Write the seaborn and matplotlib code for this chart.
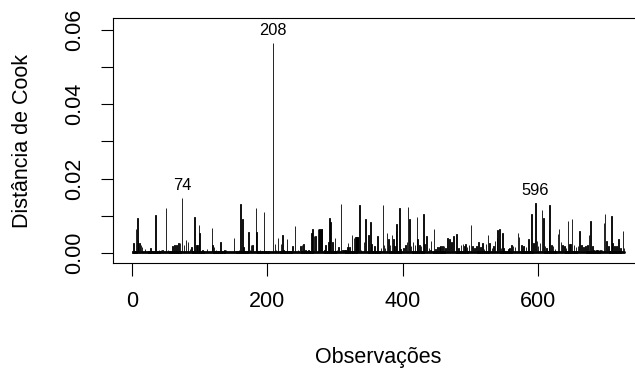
import numpy as np
import pandas as pd
import matplotlib
matplotlib.use("Agg")
import matplotlib.pyplot as plt
import seaborn as sns

# ---------------- data ----------------
n_obs = 728
floor_value = 0.0004          # thin dense baseline seen under all observations
spike_obs = [2, 6, 8, 9, 11, 13, 15, 19, 27, 35, 40, 43, 45, 50, 53, 60, 63, 66, 69, 71,
             74, 77, 80, 83, 86, 88, 92, 95, 97, 99, 100, 104, 111, 118, 119, 121, 124, 131,
             137, 139, 151, 158, 160, 163, 165, 172, 174, 176, 178, 183, 184, 189, 191, 195,
             208, 211, 213, 216, 220, 222, 224, 229, 232, 237, 241, 245, 249, 251, 253, 256,
             261, 265, 267, 269, 271, 275, 276, 277, 278, 279, 280, 281, 284, 286, 290, 292,
             293, 296, 300, 303, 305, 309, 311, 312, 313, 314, 315, 316, 318, 319, 321, 325,
             328, 330, 331, 332, 333, 334, 336, 338, 343, 345, 349, 352, 354, 358, 363, 368,
             371, 372, 374, 377, 379, 381, 384, 386, 388, 390, 391, 395, 397, 401, 404, 406,
             408, 410, 412, 415, 418, 421, 422, 425, 427, 431, 432, 435, 439, 441, 442, 446,
             448, 451, 454, 456, 459, 461, 463, 466, 469, 472, 475, 479, 482, 486, 489, 491,
             493, 495, 498, 501, 503, 506, 509, 512, 515, 518, 520, 523, 526, 528, 532, 534,
             536, 539, 540, 543, 545, 547, 549, 556, 558, 561, 563, 566, 570, 572, 575, 578,
             582, 586, 590, 593, 596, 598, 600, 603, 606, 608, 610, 612, 616, 617, 620, 622,
             625, 629, 631, 634, 636, 639, 641, 644, 646, 648, 650, 653, 656, 659, 661, 664,
             667, 670, 673, 675, 677, 680, 682, 684, 686, 688, 690, 692, 694, 697, 699, 701,
             704, 708, 710, 713, 716, 719, 722, 725, 727]
spike_val = [0.0025, 0.0063, 0.0094, 0.0033, 0.0025, 0.0020, 0.0015, 0.0010, 0.0012, 0.0101,
             0.0007, 0.0008, 0.0008, 0.0121, 0.0006, 0.0018, 0.0020, 0.0020, 0.0025, 0.0025,
             0.0148, 0.0020, 0.0033, 0.0030, 0.0010, 0.0015, 0.0097, 0.0022, 0.0020, 0.0076,
             0.0054, 0.0008, 0.0010, 0.0067, 0.0020, 0.0015, 0.0007, 0.0030,
             0.0006, 0.0006, 0.0040, 0.0008, 0.0132, 0.0090, 0.0016, 0.0056, 0.0007, 0.0020,
             0.0022, 0.0121, 0.0055, 0.0006, 0.0005, 0.0109,
             0.0565, 0.0023, 0.0008, 0.0040, 0.0023, 0.0047, 0.0008, 0.0038, 0.0005, 0.0018,
             0.0072, 0.0008, 0.0017, 0.0020, 0.0024, 0.0008,
             0.0008, 0.0052, 0.0065, 0.0045, 0.0044, 0.0063, 0.0063, 0.0063, 0.0063, 0.0063,
             0.0063, 0.0063, 0.0006, 0.0022, 0.0030, 0.0094,
             0.0083, 0.0030, 0.0040, 0.0008, 0.0015, 0.0132, 0.0006, 0.0006, 0.0006, 0.0006,
             0.0006, 0.0006, 0.0015, 0.0027, 0.0015, 0.0047,
             0.0040, 0.0042, 0.0042, 0.0042, 0.0042, 0.0042, 0.0128, 0.0008, 0.0030, 0.0090,
             0.0048, 0.0082, 0.0024, 0.0018, 0.0045, 0.0013,
             0.0128, 0.0022, 0.0013, 0.0052, 0.0038, 0.0022, 0.0049, 0.0036, 0.0018, 0.0058,
             0.0078, 0.0121, 0.0009, 0.0013, 0.0022, 0.0030,
             0.0123, 0.0090, 0.0018, 0.0030, 0.0022, 0.0097, 0.0036, 0.0022, 0.0018, 0.0105,
             0.0024, 0.0045, 0.0012, 0.0006, 0.0031, 0.0065,
             0.0009, 0.0015, 0.0015, 0.0018, 0.0018, 0.0018, 0.0013, 0.0040, 0.0036, 0.0030,
             0.0045, 0.0051, 0.0012, 0.0022, 0.0024, 0.0018,
             0.0024, 0.0015, 0.0022, 0.0074, 0.0018, 0.0013, 0.0018, 0.0030, 0.0015, 0.0027,
             0.0009, 0.0024, 0.0047, 0.0027, 0.0013, 0.0018,
             0.0031, 0.0040, 0.0060, 0.0065, 0.0013, 0.0052, 0.0012, 0.0009, 0.0013, 0.0022,
             0.0018, 0.0015, 0.0052, 0.0042, 0.0022, 0.0018,
             0.0015, 0.0036, 0.0105, 0.0027, 0.0134, 0.0031, 0.0018, 0.0027, 0.0116, 0.0094,
             0.0018, 0.0013, 0.0060, 0.0128, 0.0022, 0.0018,
             0.0009, 0.0051, 0.0063, 0.0030, 0.0022, 0.0018, 0.0013, 0.0085, 0.0024, 0.0024,
             0.0090, 0.0022, 0.0015, 0.0018, 0.0058, 0.0022,
             0.0015, 0.0018, 0.0022, 0.0049, 0.0085, 0.0018, 0.0006, 0.0006, 0.0006, 0.0006,
             0.0006, 0.0006, 0.0006, 0.0080, 0.0105, 0.0031,
             0.0018, 0.0098, 0.0027, 0.0018, 0.0018, 0.0036, 0.0013, 0.0058, 0.0012]
label_obs = [74, 208, 596]
x_ticks = [0, 200, 400, 600]
y_ticks = [0.00, 0.01, 0.02, 0.03, 0.04, 0.05, 0.06]
y_tick_labels = ["0.00", "", "0.02", "", "0.04", "", "0.06"]
x_title = "Observações"
y_title = "Distância de Cook"

cook = np.full(n_obs, floor_value)
cook[np.array(spike_obs) - 1] = spike_val
df = pd.DataFrame({"obs": np.arange(1, n_obs + 1), "cook": cook})

# ---------------- style ----------------
sns.set_theme(style="ticks")
plt.rcParams["font.family"] = ["Liberation Sans", "DejaVu Sans"]
plt.rcParams["axes.linewidth"] = 0.8

W, H = 635, 370
fig = plt.figure(figsize=(W / 100, H / 100), dpi=100)
left_px, right_px, top_px, bot_px = 113, 644.5, 18.3, 262.7
ax = fig.add_axes([left_px / W, 1 - bot_px / H, (right_px - left_px) / W, (bot_px - top_px) / H])

sns.barplot(data=df, x="obs", y="cook", native_scale=True, color="black",
            saturation=1, width=0.8, edgecolor="black", linewidth=0.6,
            errorbar=None, ax=ax)

ax.set_xlim(1 - 0.04 * (n_obs - 1), n_obs + 0.04 * (n_obs - 1))
ax.set_ylim(-0.0027, 0.0632)
ax.set_xticks(x_ticks)
ax.set_xticklabels([str(t) for t in x_ticks])
ax.set_yticks(y_ticks)
ax.set_yticklabels(y_tick_labels)
ax.set_xlabel("")
ax.set_ylabel("")
for s in ax.spines.values():
    s.set_visible(True)
    s.set_color("black")
    s.set_linewidth(0.8)
ax.tick_params(axis="both", length=9, width=0.8, color="black", labelsize=15.5,
               labelcolor="black")
ax.tick_params(axis="x", pad=11.5)
ax.tick_params(axis="y", pad=11)
for lbl in ax.get_yticklabels():
    lbl.set_rotation(90)
    lbl.set_va("center")
    lbl.set_ha("right")

for o in label_obs:
    v = cook[o - 1]
    ax.annotate(str(o), xy=(o, v), xytext=(0, 8.8), textcoords="offset points",
                ha="center", va="center", fontsize=11.8, color="black")

fig.text(378 / W, 1 - 363 / H, x_title, ha="center", va="baseline", fontsize=15.5,
         color="black")
fig.text(23 / W, 1 - 140.8 / H, y_title, ha="center", va="center", rotation=90,
         fontsize=15.5, color="black")

fig.savefig("out.png", dpi=100)
